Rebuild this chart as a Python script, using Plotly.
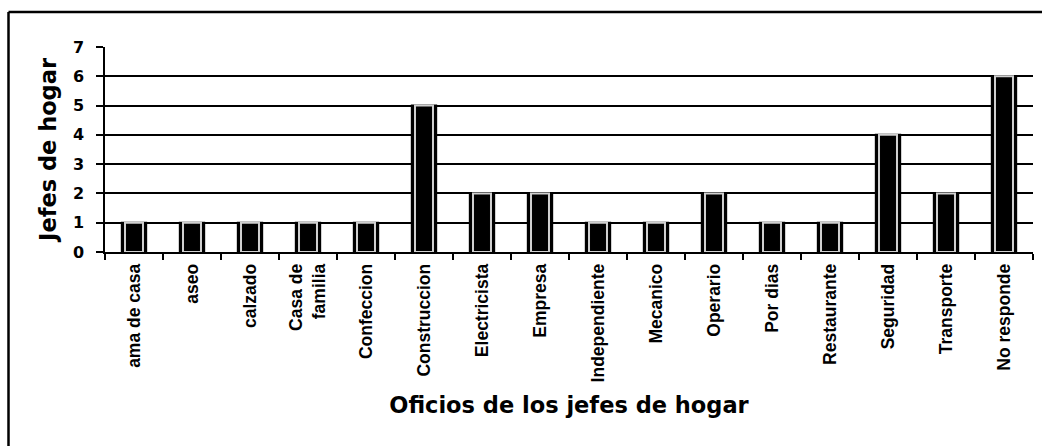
import plotly.graph_objects as go

categories = ["ama de casa", "aseo", "calzado", "Casa de<br>familia", "Confeccion",
              "Construccion", "Electricista", "Empresa", "Independiente", "Mecanico",
              "Operario", "Por dias", "Restaurante", "Seguridad", "Transporte", "No responde"]
values = [1, 1, 1, 1, 1, 5, 2, 2, 1, 1, 2, 1, 1, 4, 2, 6]
y_ticks = [0, 1, 2, 3, 4, 5, 6, 7]

W, H = 1043, 447
L, R, T, B = 105, 10, 47, 195
pw, ph = W - L - R, H - T - B

fig = go.Figure()
fig.add_trace(go.Bar(x=categories, y=values, width=0.42,
                     marker=dict(color="#000000", line=dict(color="#000000", width=2)),
                     showlegend=False, hoverinfo="skip"))
fig.add_trace(go.Bar(x=categories, y=values, width=0.31,
                     marker=dict(color="#000000", line=dict(color="#d0d0d0", width=2)),
                     showlegend=False))

# outer frame (left and top edges)
fx = (8.5 - L) / pw
fy_top = 1 + (T - 12) / ph
fy_bot = -(B - 1) / ph
fx_r = (W - 1 - L) / pw
fig.add_shape(type="line", xref="paper", yref="paper", x0=fx, x1=fx, y0=fy_bot, y1=fy_top,
              line=dict(color="black", width=2.5))
fig.add_shape(type="line", xref="paper", yref="paper", x0=fx, x1=fx_r, y0=fy_top, y1=fy_top,
              line=dict(color="black", width=2.5))

fig.update_layout(
    width=W, height=H,
    margin=dict(l=L, r=R, t=T, b=B, autoexpand=False),
    paper_bgcolor="white", plot_bgcolor="white",
    barmode="overlay",
    font=dict(family="Arial, Liberation Sans, sans-serif", color="black"),
    xaxis=dict(
        type="category", tickangle=-90, showgrid=False,
        showline=True, linecolor="black", linewidth=1.5,
        ticks="outside", tickson="boundaries", ticklen=6, tickcolor="black", tickwidth=1.5,
        ticklabelstandoff=3,
        tickfont=dict(size=17.5, family="Arial, Liberation Sans, sans-serif", weight="bold"),
        title=dict(text="<b>Oficios de los jefes de hogar</b>", standoff=16,
                   font=dict(size=22.5, family="DejaVu Sans, sans-serif")),
        automargin=False,
    ),
    yaxis=dict(
        range=[0, 7], tickvals=y_ticks, showgrid=True, gridcolor="black", gridwidth=1.5,
        showline=True, linecolor="black", linewidth=1.5, mirror=False,
        ticks="outside", ticklen=7, tickcolor="black", tickwidth=1.5,
        ticklabelstandoff=9,
        tickfont=dict(size=16, family="DejaVu Sans, sans-serif", weight="bold"),
        title=dict(text="<b>Jefes de hogar</b>", standoff=10,
                   font=dict(size=22.5, family="DejaVu Sans, sans-serif")),
        zeroline=False, automargin=False,
    ),
)

fig.write_html("out.html",
               config={"displayModeBar": False},
               post_script="document.body.style.margin='0';"
                           "document.documentElement.style.overflow='hidden';"
                           "document.body.style.overflow='hidden';")
